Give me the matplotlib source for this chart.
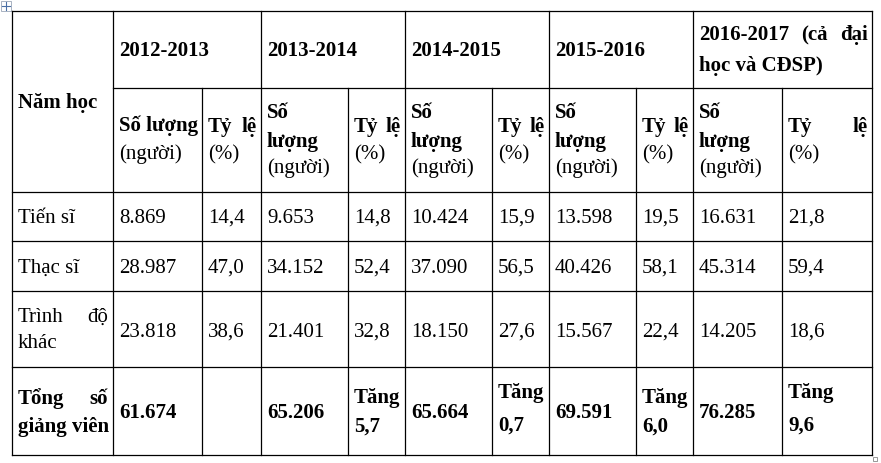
import matplotlib.pyplot as plt
from matplotlib.patches import Rectangle

# Table content
years = ["2012-2013", "2013-2014", "2014-2015", "2015-2016",
         "2016-2017 (cả đại học và CĐSP)"]
row_labels = ["Tiến sĩ", "Thạc sĩ", "Trình độ khác", "Tổng số giảng viên"]
tien_si_sl = ["8.869", "9.653", "10.424", "13.598", "16.631"]
tien_si_tl = ["14,4", "14,8", "15,9", "19,5", "21,8"]
thac_si_sl = ["28.987", "34.152", "37.090", "40.426", "45.314"]
thac_si_tl = ["47,0", "52,4", "56,5", "58,1", "59,4"]
khac_sl = ["23.818", "21.401", "18.150", "15.567", "14.205"]
khac_tl = ["38,6", "32,8", "27,6", "22,4", "18,6"]
tong_sl = ["61.674", "65.206", "65.664", "69.591", "76.285"]
tong_tang = ["", "5,7", "0,7", "6,0", "9,6"]

# Layout (pixels)
W, H = 881, 464
col_x = [12, 113, 202, 261, 348, 405, 492, 549, 636, 693, 782, 872]
row_y = [12, 89, 193, 242, 292, 368, 456]
FS = 15
FONT = "Liberation Serif"
PAD_L, PAD_R = 6, 4

fig = plt.figure(figsize=(W / 100, H / 100), dpi=100)
ax = fig.add_axes([0, 0, 1, 1])
ax.set_xlim(0, W)
ax.set_ylim(H, 0)
ax.axis("off")
renderer = fig.canvas.get_renderer()


def put(x, y, s, bold=False, ha="left"):
    return ax.text(x, y, s, fontsize=FS, family=FONT, ha=ha, va="baseline",
                   fontweight="bold" if bold else "normal")


def justify(words, x0, x1, y, bold=False):
    # spread words over the full cell width, like Word's justified text
    texts = [put(0, y, w, bold) for w in words]
    widths = [t.get_window_extent(renderer).width for t in texts]
    gap = (x1 - x0 - sum(widths)) / max(len(words) - 1, 1)
    x = x0
    for t, w in zip(texts, widths):
        t.set_x(x)
        x += w + gap


# grid lines
lw = 0.9
for y in [row_y[0]] + row_y[2:]:
    ax.plot([col_x[0], col_x[-1]], [y, y], color="black", lw=lw)
ax.plot([col_x[1], col_x[-1]], [row_y[1], row_y[1]], color="black", lw=lw)
for i, x in enumerate(col_x):
    top = row_y[0] if i % 2 == 1 or i in (0, len(col_x) - 1) else row_y[1]
    ax.plot([x, x], [top, row_y[-1]], color="black", lw=lw)

# header
put(col_x[0] + PAD_L, 108, "Năm học", bold=True)
for g, year in enumerate(years):
    xa, xb, xc = col_x[1 + 2 * g], col_x[2 + 2 * g], col_x[3 + 2 * g]
    if g < 4:
        put(xa + PAD_L, 56, year, bold=True)
    else:
        justify(["2016-2017", "(cả", "đại"], xa + PAD_L, xc - PAD_R, 40, bold=True)
        put(xa + PAD_L, 71, "học và CĐSP)", bold=True)
    if g == 0:
        put(xa + PAD_L, 131, "Số lượng", bold=True)
        put(xa + PAD_L, 159, "(người)")
    else:
        put(xa + PAD_L, 118, "Số", bold=True)
        put(xa + PAD_L, 147, "lượng", bold=True)
        put(xa + PAD_L, 173, "(người)")
    justify(["Tỷ", "lệ"], xb + PAD_L, xc - PAD_R, 132, bold=True)
    put(xb + PAD_L, 159, "(%)")

# body
x0 = col_x[0] + PAD_L
x1 = col_x[1] - 5
put(x0, 223, row_labels[0])
put(x0, 273, row_labels[1])
justify(["Trình", "độ"], x0, x1, 322)
put(x0, 348, "khác")
justify(["Tổng", "số"], x0, x1, 404, bold=True)
put(x0, 432, "giảng viên", bold=True)

for g in range(5):
    xa, xb = col_x[1 + 2 * g] + PAD_L, col_x[2 + 2 * g] + PAD_L
    put(xa, 223, tien_si_sl[g])
    put(xb, 223, tien_si_tl[g])
    put(xa, 273, thac_si_sl[g])
    put(xb, 273, thac_si_tl[g])
    put(xa, 337, khac_sl[g])
    put(xb, 337, khac_tl[g])
    put(xa, 418, tong_sl[g], bold=True)
    if tong_tang[g]:
        up = 398 if g in (2, 4) else 403
        put(xb, up, "Tăng", bold=True)
        put(xb, up + 33 if g in (2, 4) else up + 29, tong_tang[g], bold=True)

# Word table handles
ax.add_patch(Rectangle((1, 2), 10, 10, fill=False, ec="#9aa6b8", lw=0.6))
ax.plot([6, 6], [3, 11], color="#4a6fa5", lw=0.8)
ax.plot([2, 10], [7, 7], color="#4a6fa5", lw=0.8)
ax.add_patch(Rectangle((873, 458), 4, 4, fill=False, ec="#888888", lw=0.6))

fig.savefig("out.png", dpi=100)
